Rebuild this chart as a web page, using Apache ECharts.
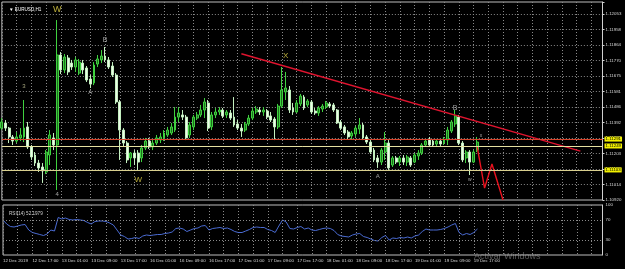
<!DOCTYPE html>
<html><head><meta charset="utf-8">
<script src="https://cdn.jsdelivr.net/npm/echarts@6/dist/echarts.min.js"></script>
<style>html,body{margin:0;padding:0;background:#000;}#c{width:625px;height:269px;}</style>
</head><body><div id="c"></div>
<script>
const timeLabels = ["12 Dec 2019","12 Dec 17:00","13 Dec 01:00","13 Dec 09:00","13 Dec 17:00","16 Dec 01:00","16 Dec 09:00","16 Dec 17:00","17 Dec 01:00","17 Dec 09:00","17 Dec 17:00","18 Dec 01:00","18 Dec 09:00","18 Dec 17:00","19 Dec 01:00","19 Dec 09:00","19 Dec 17:00"];
const priceTicks = ["1.10920","1.11014","1.11109","1.11203","1.11298","1.11392","1.11486","1.11581","1.11675","1.11770","1.11864","1.11958","1.12053"];
const rsiTicks = [0,30,70,100];

const opens = [1.11358,1.11389,1.11358,1.11304,1.11279,1.11298,1.11304,1.11365,1.11243,1.11194,
1.11145,1.11121,1.11091,1.11194,1.11298,1.11255,1.11803,1.11712,1.11785,1.11754,
1.11730,1.11693,1.11754,1.11724,1.11657,1.11633,1.11748,1.11773,1.11797,1.11773,
1.11736,1.11681,1.11517,1.11346,1.11267,1.11176,1.11206,1.11206,1.11176,1.11237,
1.11279,1.11243,1.11267,1.11285,1.11298,1.11316,1.11328,1.11346,1.11425,1.11438,
1.11425,1.11316,1.11365,1.11419,1.11438,1.11468,1.11511,1.11365,1.11438,1.11456,
1.11468,1.11438,1.11450,1.11425,1.11383,1.11358,1.11346,1.11383,1.11419,1.11456,
1.11468,1.11456,1.11462,1.11432,1.11413,1.11365,1.11492,1.11578,1.11590,1.11480,
1.11456,1.11505,1.11547,1.11499,1.11517,1.11462,1.11450,1.11474,1.11486,1.11505,
1.11499,1.11468,1.11395,1.11365,1.11334,1.11310,1.11322,1.11352,1.11377,1.11304,
1.11273,1.11224,1.11176,1.11151,1.11212,1.11267,1.11133,1.11176,1.11151,1.11176,
1.11151,1.11176,1.11151,1.11188,1.11206,1.11255,1.11291,1.11279,1.11261,1.11279,
1.11267,1.11285,1.11340,1.11383,1.11425,1.11267,1.11176,1.11212,1.11151,1.11224];
const closes = [1.11395,1.11358,1.11304,1.11279,1.11304,1.11316,1.11358,1.11243,1.11182,1.11145,
1.11115,1.11097,1.11212,1.11316,1.11255,1.11803,1.11712,1.11791,1.11700,1.11730,
1.11773,1.11760,1.11712,1.11651,1.11626,1.11742,1.11779,1.11797,1.11773,1.11730,
1.11681,1.11517,1.11346,1.11267,1.11164,1.11206,1.11176,1.11151,1.11237,1.11279,
1.11243,1.11267,1.11298,1.11304,1.11328,1.11346,1.11365,1.11425,1.11450,1.11425,
1.11298,1.11377,1.11425,1.11438,1.11468,1.11517,1.11358,1.11438,1.11456,1.11468,
1.11432,1.11456,1.11419,1.11377,1.11358,1.11340,1.11383,1.11419,1.11462,1.11474,
1.11456,1.11468,1.11425,1.11407,1.11365,1.11492,1.11590,1.11602,1.11468,1.11456,
1.11511,1.11553,1.11480,1.11523,1.11456,1.11450,1.11480,1.11492,1.11511,1.11492,
1.11468,1.11389,1.11358,1.11328,1.11304,1.11328,1.11358,1.11377,1.11298,1.11273,
1.11212,1.11164,1.11151,1.11224,1.11267,1.11115,1.11176,1.11151,1.11176,1.11151,
1.11182,1.11133,1.11194,1.11206,1.11255,1.11279,1.11255,1.11255,1.11279,1.11261,
1.11291,1.11346,1.11395,1.11432,1.11267,1.11164,1.11212,1.11151,1.11212,1.11273];
const lows = [1.11346,1.11340,1.11267,1.11255,1.11267,1.11279,1.11273,1.11231,1.11164,1.11127,
1.11091,1.11024,1.11078,1.11133,1.11224,1.10981,1.11687,1.11693,1.11681,1.11712,
1.11700,1.11681,1.11687,1.11639,1.11602,1.11620,1.11730,1.11754,1.11760,1.11718,
1.11669,1.11505,1.11164,1.11249,1.11145,1.11121,1.11133,1.11103,1.11151,1.11224,
1.11231,1.11224,1.11255,1.11267,1.11279,1.11304,1.11316,1.11334,1.11395,1.11407,
1.11285,1.11298,1.11346,1.11407,1.11425,1.11419,1.11340,1.11346,1.11419,1.11438,
1.11419,1.11419,1.11407,1.11365,1.11346,1.11304,1.11334,1.11371,1.11407,1.11444,
1.11438,1.11432,1.11413,1.11395,1.11285,1.11352,1.11480,1.11529,1.11450,1.11438,
1.11450,1.11492,1.11468,1.11486,1.11444,1.11438,1.11432,1.11456,1.11474,1.11480,
1.11456,1.11383,1.11346,1.11316,1.11291,1.11291,1.11304,1.11322,1.11285,1.11261,
1.11200,1.11151,1.11115,1.11133,1.11164,1.11103,1.11121,1.11139,1.11127,1.11133,
1.11127,1.11121,1.11145,1.11164,1.11194,1.11243,1.11249,1.11249,1.11249,1.11249,
1.11255,1.11255,1.11328,1.11365,1.11255,1.11151,1.11145,1.11072,1.11145,1.11212];
const highs = [1.11419,1.11407,1.11365,1.11316,1.11334,1.11358,1.11529,1.11395,1.11255,1.11212,
1.11164,1.11145,1.11224,1.11346,1.11328,1.12016,1.11821,1.11809,1.11803,1.11773,
1.11791,1.11779,1.11773,1.11736,1.11681,1.11760,1.11803,1.11833,1.11852,1.11791,
1.11760,1.11693,1.11529,1.11358,1.11279,1.11212,1.11224,1.11224,1.11255,1.11298,
1.11298,1.11285,1.11316,1.11328,1.11346,1.11365,1.11389,1.11486,1.11486,1.11468,
1.11438,1.11395,1.11438,1.11456,1.11499,1.11541,1.11529,1.11456,1.11480,1.11486,
1.11480,1.11468,1.11468,1.11547,1.11407,1.11383,1.11395,1.11438,1.11480,1.11492,
1.11486,1.11486,1.11474,1.11456,1.11425,1.11505,1.11730,1.11700,1.11614,1.11511,
1.11529,1.11566,1.11559,1.11535,1.11529,1.11480,1.11492,1.11505,1.11523,1.11517,
1.11511,1.11474,1.11407,1.11377,1.11346,1.11340,1.11371,1.11419,1.11389,1.11316,
1.11285,1.11237,1.11194,1.11237,1.11334,1.11285,1.11188,1.11188,1.11188,1.11194,
1.11194,1.11188,1.11206,1.11224,1.11267,1.11291,1.11304,1.11291,1.11291,1.11291,
1.11304,1.11365,1.11407,1.11468,1.11438,1.11279,1.11224,1.11224,1.11224,1.11304];
const rsiValues = [70,62,57,56,58,60,61,50,45,43,
41,39,42,50,48,75,72,74,71,70,
71,70,69,65,62,67,68,68,67,64,
60,50,40,37,32,33,35,33,38,40,
39,40,41,41,43,44,46,53,54,52,
47,50,53,54,58,59,50,53,54,55,
53,54,51,47,45,45,48,51,55,56,
55,55,51,49,45,58,70,66,53,52,
55,57,52,54,50,49,51,53,54,53,
49,41,38,37,36,40,42,43,37,35,
32,29,28,35,39,30,34,33,35,34,
36,34,38,40,47,52,50,50,50,51,
53,56,60,63,45,40,43,41,45,52];
const levelValues = [1.11291, 1.11249, 1.11103];
const levelColors = ['#d9452c', '#e6e0a0', '#d8cf8e'];
const trendLine = [[65, 1.11811], [157, 1.11218]];
const zigzag = [[129, 1.11243], [131, 1.10993], [133, 1.11139], [136, 1.10920]];
const waveLabels = [
  {t:'W', i:15, p:1.12083, c:'#e8d84a', s:9},
  {t:'B', i:28, p:1.11894, c:'#c8c8c8', s:7},
  {t:'A', i:24, p:1.11578, c:'#c8c8c8', s:6},
  {t:'3', i:6, p:1.11614, c:'#c8c89a', s:6},
  {t:'4', i:15, p:1.10957, c:'#c8c8c8', s:6},
  {t:'W', i:37, p:1.11042, c:'#e8d84a', s:8},
  {t:'X', i:77, p:1.11797, c:'#e8d84a', s:8},
  {t:'A', i:102, p:1.11066, c:'#c8c8c8', s:6},
  {t:'B', i:123, p:1.11480, c:'#c8c8c8', s:7},
  {t:'x', i:130, p:1.11310, c:'#c8c8c8', s:5},
  {t:'w', i:127, p:1.11042, c:'#c8c8c8', s:5}
];

const N = 164;
const cats = Array.from({length: N}, (_, i) => i);
const candleData = opens.map((o, i) => [o, closes[i], lows[i], highs[i]]);
const priceMin = 1.10920, priceStep = 0.000944, pxPerStep = 15.5, mainH = 198;
const idxMax = mainH / pxPerStep;
const priceMax = priceMin + idxMax * priceStep;
const dot = {color: '#8a8a8a', type: [1, 2], width: 1};
const FONT = 'Liberation Sans';
const fs = 4.4;

const chart = echarts.init(document.getElementById('c'));
chart.setOption({
  backgroundColor: '#000',
  animation: false,
  title: [
    {text: '\u25BC EURUSD,H1', left: 4, top: 2, textStyle: {color: '#ffffff', fontSize: 4.6, fontWeight: 'normal', fontFamily: FONT}},
    {text: 'RSI(14) 52.1979', left: 4, top: 206, textStyle: {color: '#cfcfcf', fontSize: 4.6, fontWeight: 'normal', fontFamily: FONT}}
  ],
  graphic: [
    {type: 'text', left: 474, top: 252, style: {text: 'Activar Windows', fill: 'rgba(190,190,190,0.45)', fontSize: 9, fontFamily: FONT}}
  ],
  grid: [
    {left: 1.85, right: 22.5, top: 2, height: mainH, show: true, borderColor: '#bdbdbd', borderWidth: 1, backgroundColor: 'transparent'},
    {left: 1.85, right: 22.5, top: 205, height: 50, show: true, borderColor: '#bdbdbd', borderWidth: 1, backgroundColor: 'transparent'}
  ],
  xAxis: [
    {type: 'category', gridIndex: 0, data: cats, boundaryGap: false,
     axisLine: {show: false}, axisTick: {show: false}, axisLabel: {show: false},
     splitLine: {show: true, interval: (i) => i % 4 === 0, lineStyle: dot}},
    {type: 'category', gridIndex: 1, data: cats, boundaryGap: false,
     axisLine: {show: false}, axisTick: {show: false},
     axisLabel: {show: true, interval: (i) => i % 8 === 0 && i <= 128, align: 'left', margin: 4,
       color: '#d8d8d8', fontSize: fs, fontFamily: FONT,
       formatter: (v) => timeLabels[Number(v) / 8] || ''},
     splitLine: {show: true, interval: (i) => i % 4 === 0, lineStyle: dot}}
  ],
  yAxis: [
    {type: 'value', gridIndex: 0, min: priceMin, max: priceMax, show: false, splitLine: {show: false}},
    {type: 'value', gridIndex: 0, position: 'right', min: 0, max: idxMax, interval: 1,
     axisLine: {show: true, lineStyle: {color: '#d0d0d0'}},
     axisTick: {show: true, length: 2, lineStyle: {color: '#d0d0d0'}},
     axisLabel: {show: true, margin: 3, color: '#d8d8d8', fontSize: fs, fontFamily: FONT,
       formatter: (v) => (Math.abs(v - Math.round(v)) < 1e-6 && priceTicks[Math.round(v)]) ? priceTicks[Math.round(v)] : ''},
     splitLine: {show: true, showMinLine: false, showMaxLine: false, lineStyle: dot}},
    {type: 'value', gridIndex: 1, position: 'right', min: 0, max: 100, interval: 10,
     axisLine: {show: true, lineStyle: {color: '#d0d0d0'}},
     axisTick: {show: false},
     axisLabel: {show: true, margin: 3, color: '#d8d8d8', fontSize: fs, fontFamily: FONT,
       formatter: (v) => rsiTicks.indexOf(Math.round(v)) >= 0 ? String(Math.round(v)) : ''},
     splitLine: {show: false}}
  ],
  series: [
    {type: 'candlestick', xAxisIndex: 0, yAxisIndex: 0, data: candleData, barWidth: 2.4, clip: false,
     itemStyle: {color: '#1d6e1d', color0: '#eefbe9', borderColor: '#3fd13f', borderColor0: '#c4f0c0', borderWidth: 1}},
    {type: 'line', xAxisIndex: 0, yAxisIndex: 0, data: [], symbol: 'none',
     markLine: {silent: true, symbol: 'none', animation: false, precision: 5,
       data: levelValues.map((v, k) => ({yAxis: v, lineStyle: {color: levelColors[k], type: 'solid', width: 1},
         label: {show: true, position: 'end', distance: 2, formatter: v.toFixed(5), color: '#000', backgroundColor: '#f2f000',
                 padding: [1, 1, 0, 1], fontSize: fs, fontFamily: FONT}}))}},
    {type: 'line', xAxisIndex: 0, yAxisIndex: 0, data: trendLine, symbol: 'none', lineStyle: {color: '#e0142f', width: 1.4}},
    {type: 'line', xAxisIndex: 0, yAxisIndex: 0, data: zigzag, symbol: 'none', lineStyle: {color: '#e8121e', width: 1.4}, clip: true},
    {type: 'scatter', xAxisIndex: 0, yAxisIndex: 0, symbolSize: 1, itemStyle: {color: 'transparent'},
     data: waveLabels.map(w => ({value: [w.i, w.p], name: w.t,
       label: {show: true, position: 'inside', formatter: w.t, color: w.c, fontSize: w.s, fontFamily: FONT}}))},
    {type: 'line', xAxisIndex: 1, yAxisIndex: 2, data: rsiValues, symbol: 'none', lineStyle: {color: '#4a6bd3', width: 1},
     markLine: {silent: true, symbol: 'none', label: {show: false},
       data: [{yAxis: 70}, {yAxis: 30}], lineStyle: dot}}
  ]
});
</script></body></html>
